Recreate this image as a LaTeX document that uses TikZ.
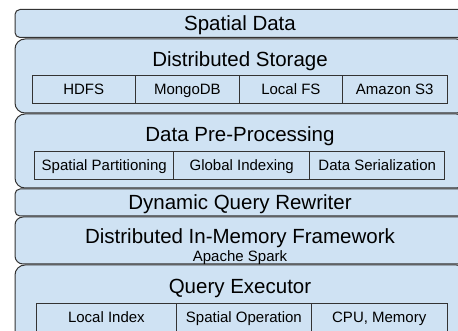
\documentclass[tikz,border=0pt]{standalone}
\usepackage{fontspec}
\setmainfont{Liberation Sans}
\definecolor{layerblue}{HTML}{CFE2F3}
\definecolor{edgegray}{HTML}{333333}
\newcommand\titlesize{\fontsize{20.5}{24}\selectfont}
\newcommand\cellsize{\fontsize{15}{18}\selectfont}
\tikzset{
	layer/.style={draw=edgegray, fill=layerblue, line width=1pt,
		rounded corners=#1, anchor=north west, inner sep=0pt},
	cell/.style={draw=edgegray, fill=layerblue, line width=0.8pt,
		anchor=north west, inner sep=0pt, font=\cellsize,
		text height=10.7pt, text depth=0pt},
	title/.style={font=\titlesize, inner sep=0pt, text height=14.7pt, text depth=0pt},
	sub/.style={font=\cellsize, inner sep=0pt, text height=10.7pt, text depth=0pt}
}

\begin{document}
\begin{tikzpicture}[x=1pt, y=-1pt]
		\def\left{14.5}
		\def\right{466}
		\clip (0,0) rectangle (458,331);
		% layers: top / bottom / corner / name
		\foreach \t/\b/\r/\n in {9/37/5/sdata, 38.5/112.5/10/dstore, 113.5/187.5/10/prep,
			188.5/215.5/5/rewriter, 216.5/263.5/8/inmem, 264.5/340/10/executor}
		{
			\node[layer=\r pt, minimum width={(\right-\left)*1pt}, minimum height={(\b-\t)*1pt}]
				(\n) at (\left, \t) {};
		}
		\node[title] (sdatatitle) at (240, 23.5) {Spatial Data};
		\node[title] (dstoretitle) at (240, 59.5) {Distributed Storage};
		\node[title] (preptitle) at (240, 134.5) {Data Pre-Processing};
		\node[title] (rewritertitle) at (240, 202.5) {Dynamic Query Rewriter};
		\node[title] (inmemtitle) at (240, 236) {Distributed In-Memory Framework};
		\node[sub] (inmemsub) at (240, 256.5) {Apache Spark};
		\node[title] (executortitle) at (240, 285.7) {Query Executor};
		% cells inside the layers
		\foreach \a/\b/\txt [count=\i] in {31.7/135/HDFS, 135/239/MongoDB,
			239/342/Local FS, 342/446.7/Amazon S3}
		{
			\node[cell, minimum width={(\b-\a)*1pt}, minimum height=28pt]
				(store\i) at (\a, 75) {\txt};
		}
		\foreach \a/\b/\txt [count=\i] in {34.3/173.3/Spatial Partitioning,
			173.3/309.3/Global Indexing, 309.3/444.3/Data Serialization}
		{
			\node[cell, minimum width={(\b-\a)*1pt}, minimum height=28.3pt]
				(prep\i) at (\a, 150.7) {\txt};
		}
		\foreach \a/\b/\txt [count=\i] in {36/176/Local Index,
			176/311/Spatial Operation, 311/446.7/{CPU, Memory}}
		{
			\node[cell, minimum width={(\b-\a)*1pt}, minimum height=28pt]
				(exec\i) at (\a, 302.7) {\txt};
		}
	\end{tikzpicture}
\end{document}
